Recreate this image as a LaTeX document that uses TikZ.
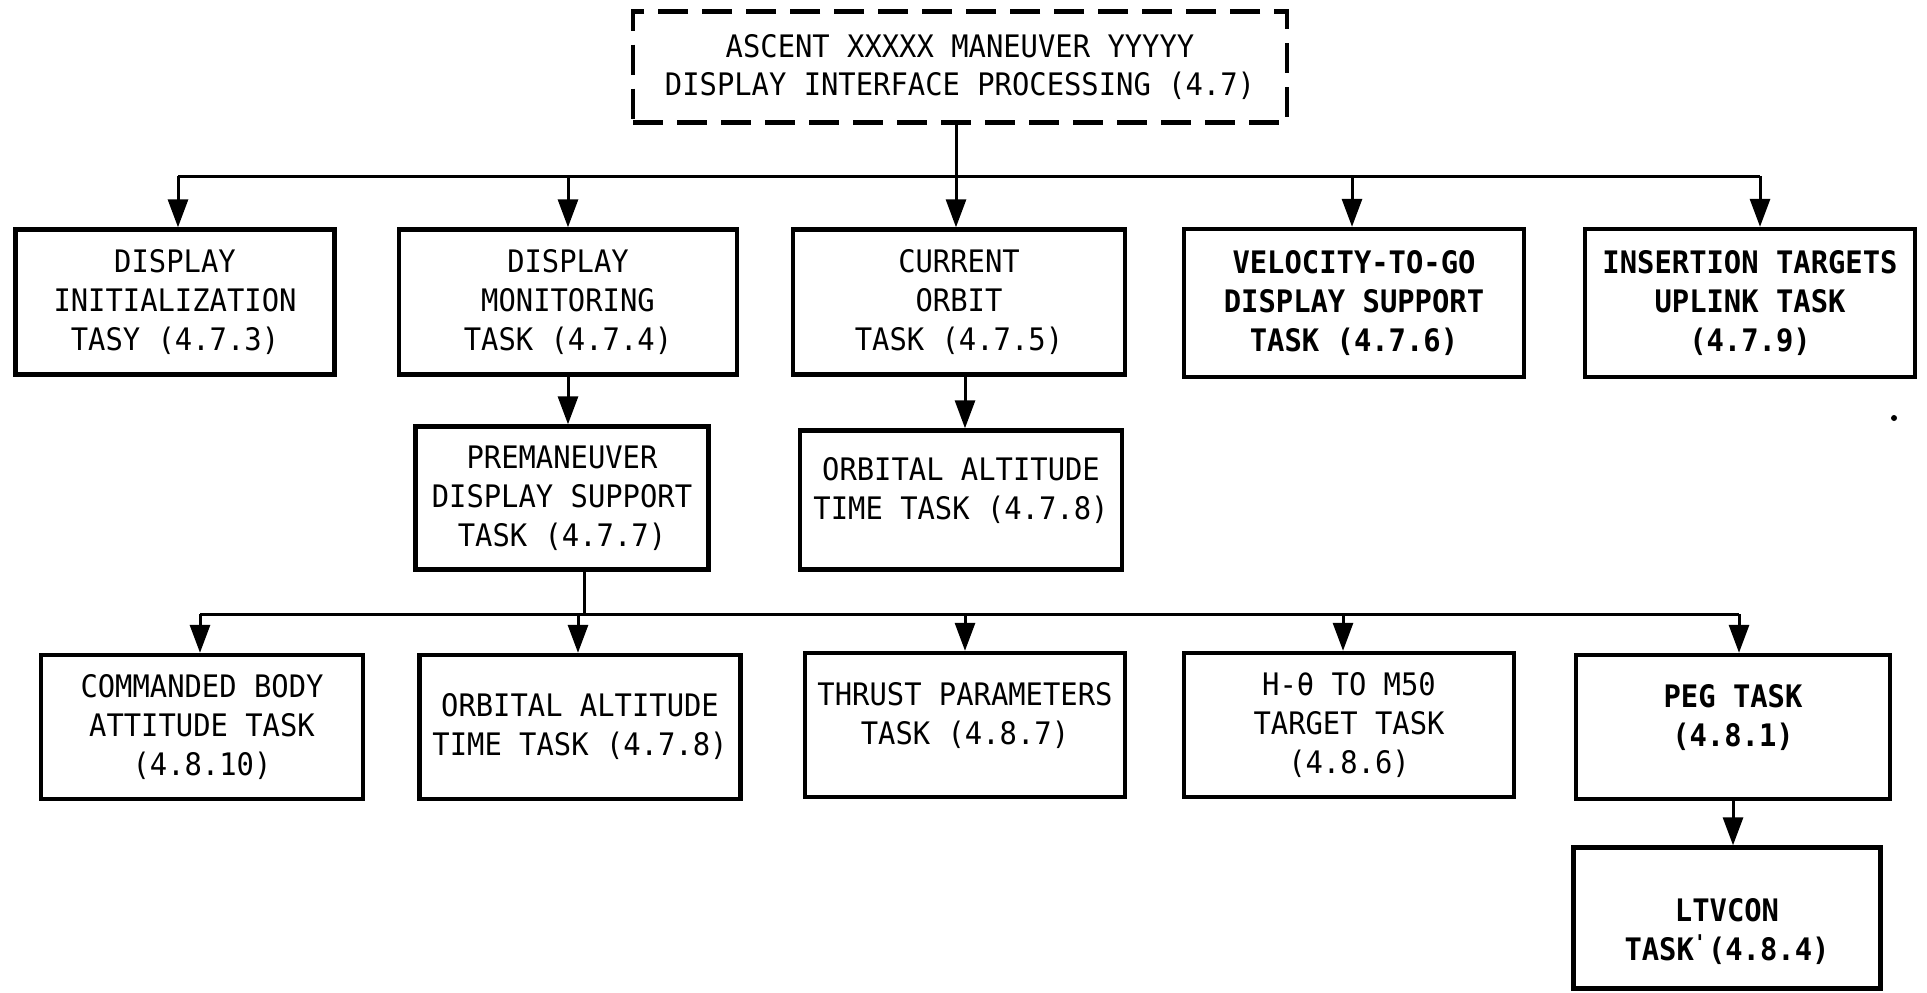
\documentclass[tikz,border=0pt]{standalone}
\usepackage{fontspec}
\setmainfont{DejaVu Sans Mono}[FakeStretch=0.93]
\usetikzlibrary{arrows.meta}
\tikzset{
  box/.style={draw, line width=2.2pt, inner sep=0pt, align=center,
    font=\fontsize{15.5}{19.5}\selectfont},
  topbox/.style={box, dash pattern=on 15pt off 7pt, line width=2.4pt,
    font=\fontsize{15.5}{19}\selectfont},
  conn/.style={line width=1.5pt},
  arr/.style={conn, -{Triangle[length=14pt,width=10pt]}},
  bld/.style={font=\fontsize{15.5}{19.5}\selectfont\bfseries}
}
\begin{document}
\begin{tikzpicture}[x={(0.5pt,0)}, y={(0,-0.5pt)}]
\useasboundingbox (0,0) rectangle (1927,992);
% top
\node[topbox, minimum width=327pt, minimum height=55.5pt] (top) at (960,67)
  {ASCENT XXXXX MANEUVER YYYYY\\DISPLAY INTERFACE PROCESSING (4.7)};
% row 1
\node[box, minimum width=159.5pt, minimum height=72.5pt] (b1) at (175,302)
  {DISPLAY\\INITIALIZATION\\TASY (4.7.3)};
\node[box, minimum width=169pt, minimum height=72.5pt] (b2) at (568,302)
  {DISPLAY\\MONITORING\\TASK (4.7.4)};
\node[box, minimum width=166pt, minimum height=72.5pt] (b3) at (959,302)
  {CURRENT\\ORBIT\\TASK (4.7.5)};
\node[box, bld, minimum width=170pt, minimum height=74pt] (b4) at (1354,303)
  {VELOCITY-TO-GO\\DISPLAY SUPPORT\\TASK (4.7.6)};
\node[box, bld, minimum width=165pt, minimum height=74pt] (b5) at (1750,303)
  {INSERTION TARGETS\\UPLINK TASK\\(4.7.9)};
% row 2
\node[box, minimum width=146.5pt, minimum height=71.5pt] (p1) at (562,498)
  {PREMANEUVER\\DISPLAY SUPPORT\\TASK (4.7.7)};
\node[box, text depth=12pt, minimum width=161pt, minimum height=69.5pt] (p2) at (961,500)
  {ORBITAL ALTITUDE\\TIME TASK (4.7.8)};
% row 3
\node[box, minimum width=161pt, minimum height=72pt] (c1) at (202,727)
  {COMMANDED BODY\\ATTITUDE TASK\\(4.8.10)};
\node[box, minimum width=160.5pt, minimum height=72pt] (c2) at (580,727)
  {ORBITAL ALTITUDE\\TIME TASK (4.7.8)};
\node[box, text depth=12pt, minimum width=160pt, minimum height=72pt] (c3) at (965,725)
  {THRUST PARAMETERS\\TASK (4.8.7)};
\node[box, minimum width=165pt, minimum height=72pt] (c4) at (1349,725)
  {H-θ TO M50\\TARGET TASK\\(4.8.6)};
\node[box, bld, text depth=12pt, minimum width=157pt, minimum height=72pt] (c5) at (1733,727)
  {PEG TASK\\(4.8.1)};
\node[box, bld, text height=45pt, minimum width=153.5pt, minimum height=70.5pt] (ltv) at (1727,918)
  {LTVCON\\TASK\textsuperscript{\textquotesingle}(4.8.4)};
% bus 1
\coordinate (j0) at (956,176);
\coordinate (j1) at (178,176);
\coordinate (j2) at (568,176);
\coordinate (j3) at (956,176);
\coordinate (j4) at (1352,176);
\coordinate (j5) at (1760,176);
\draw[conn] (j0 |- top.south) -- (j0);
\draw[conn] (j1) -- (j5);
\draw[arr] (j1) -- (j1 |- b1.north);
\draw[arr] (j2) -- (j2 |- b2.north);
\draw[arr] (j3) -- (j3 |- b3.north);
\draw[arr] (j4) -- (j4 |- b4.north);
\draw[arr] (j5) -- (j5 |- b5.north);
% row 2 arrows
\coordinate (k1) at (568,0);
\coordinate (k2) at (965,0);
\draw[arr] (k1 |- b2.south) -- (k1 |- p1.north);
\draw[arr] (k2 |- b3.south) -- (k2 |- p2.north);
% bus 2
\coordinate (m0) at (584,614);
\coordinate (m1) at (200,614);
\coordinate (m2) at (578,614);
\coordinate (m3) at (965,614);
\coordinate (m4) at (1343,614);
\coordinate (m5) at (1739,614);
\draw[conn] (m0 |- p1.south) -- (m0);
\draw[conn] (m1) -- (m5);
\draw[arr] (m1) -- (m1 |- c1.north);
\draw[arr] (m2) -- (m2 |- c2.north);
\draw[arr] (m3) -- (m3 |- c3.north);
\draw[arr] (m4) -- (m4 |- c4.north);
\draw[arr] (m5) -- (m5 |- c5.north);
% PEG to LTVCON
\coordinate (n1) at (1733,0);
\draw[arr] (n1 |- c5.south) -- (n1 |- ltv.north);
% speck
\fill (1894,418) circle (1.5pt);
\end{tikzpicture}
\end{document}
